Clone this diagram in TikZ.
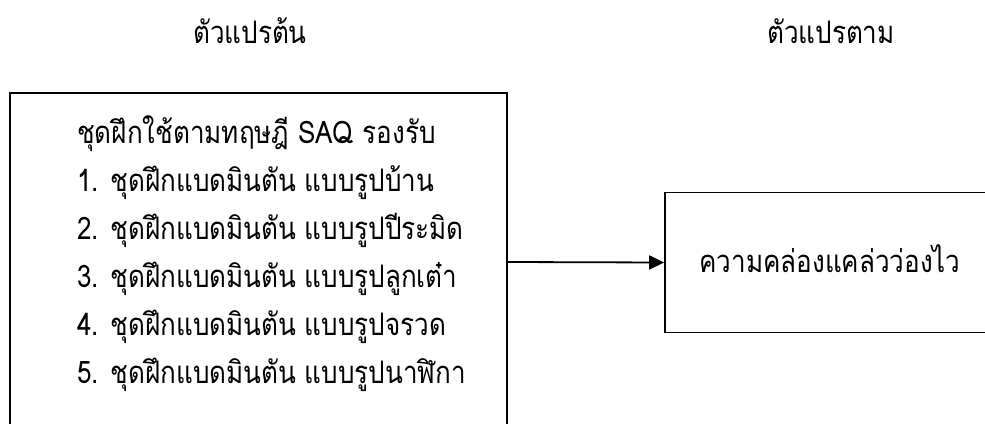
\documentclass[tikz,border=0pt]{standalone}
\usepackage{fontspec}
\newfontfamily\thaifont[Script=Thai,FakeStretch=0.84]{Loma}
\usetikzlibrary{arrows.meta}
\begin{document}
\begin{tikzpicture}[x=1pt,y=-1pt,
  boxstyle/.style={draw=black,line width=1.8pt,inner sep=0pt,fill=none},
  txt/.style={font=\thaifont\fontsize{31}{36}\selectfont,inner sep=0pt},
  arr/.style={line width=1.8pt,-{Triangle[length=15pt,width=14pt]}}]
\useasboundingbox (0,0) rectangle (985,423);
\clip (0,0) rectangle (985,423);
\fill[white] (0,0) rectangle (985,423);
\node[txt,anchor=base] (t1) at (250,43) {ตัวแปรต้น};
\node[txt,anchor=base] (t2) at (831,43) {ตัวแปรตาม};
\node[boxstyle,minimum width=497pt,minimum height=338pt] (left) at (258.5,262) {};
\node[boxstyle,minimum width=330pt,minimum height=140pt] (right) at (830,262.5) {};
\node[txt,anchor=base west] (l0) at (77,143) {ชุดฝึกใช้ตามทฤษฎี SAQ รองรับ};
\node[txt,anchor=base west] (l1) at (77,191) {1. ชุดฝึกแบดมินตัน แบบรูปบ้าน};
\node[txt,anchor=base west] (l2) at (77,239) {2. ชุดฝึกแบดมินตัน แบบรูปปีระมิด};
\node[txt,anchor=base west] (l3) at (77,287) {3. ชุดฝึกแบดมินตัน แบบรูปลูกเต๋า};
\node[txt,anchor=base west] (l4) at (77,335) {4. ชุดฝึกแบดมินตัน แบบรูปจรวด};
\node[txt,anchor=base west] (l5) at (77,383) {5. ชุดฝึกแบดมินตัน แบบรูปนาฬิกา};
\node[txt,anchor=base] (r0) at (830,272) {ความคล่องแคล่วว่องไว};
\draw[arr] (left.east) -- (right.west);
\end{tikzpicture}
\end{document}
